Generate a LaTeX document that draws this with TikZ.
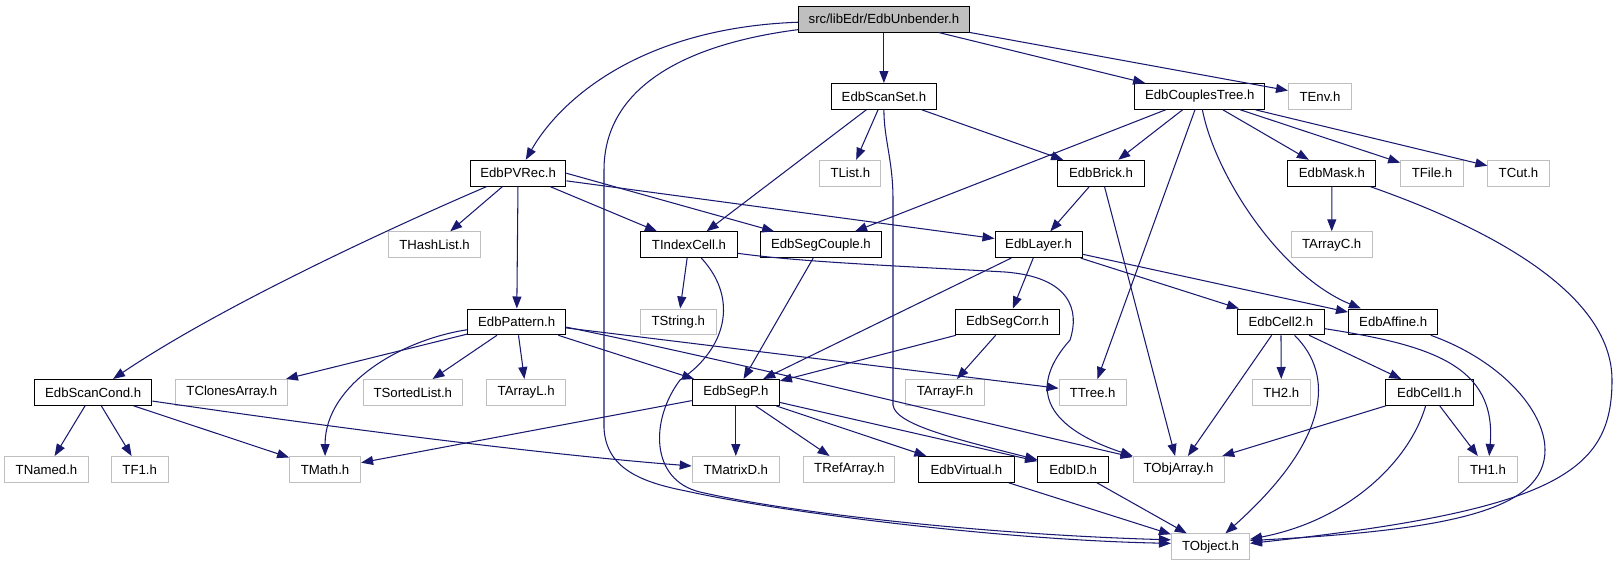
\documentclass[tikz,border=0pt]{standalone}
\usepackage{fontspec}
\setmainfont{Liberation Sans}
\usetikzlibrary{arrows.meta}
\definecolor{edgeblue}{HTML}{191970}
\definecolor{extgray}{HTML}{BFBFBF}
\tikzset{
  nbox/.style={draw=black, line width=1pt, fill=white, inner sep=0pt, minimum height=25.8, font=\fontsize{13.2}{15}\selectfont, text=black},
  ibox/.style={nbox},
  xbox/.style={nbox, draw=extgray},
  rbox/.style={nbox, fill=extgray},
  e/.style={draw=edgeblue, line width=1.05pt, -{Triangle[length=12pt,width=9pt]}}
}
\begin{document}
\begin{tikzpicture}[x=1pt,y=-1pt]
\useasboundingbox (0,0) rectangle (1617,560);
% row 1
\node[rbox, minimum width=171.2] (root) at (883.9,19.1) {src/libEdr/EdbUnbender.h};
% row 2
\node[ibox, minimum width=105.7] (scanset) at (883.9,96.4) {EdbScanSet.h};
\node[ibox, minimum width=129.8] (couples) at (1199.8,96.4) {EdbCouplesTree.h};
\node[xbox, minimum width=63] (tenv) at (1320,96.4) {TEnv.h};
% row 3
\node[ibox, minimum width=95.4] (pvrec) at (518.1,173.2) {EdbPVRec.h};
\node[xbox, minimum width=61.3] (tlist) at (850.3,173.2) {TList.h};
\node[ibox, minimum width=86.9] (brick) at (1101,173.2) {EdbBrick.h};
\node[ibox, minimum width=88.1] (mask) at (1331.9,173.2) {EdbMask.h};
\node[xbox, minimum width=62.7] (tfile) at (1432,173.2) {TFile.h};
\node[xbox, minimum width=61.3] (tcut) at (1518.5,173.2) {TCut.h};
% row 4
\node[xbox, minimum width=92.3] (thashlist) at (434.6,244.7) {THashList.h};
\node[ibox, minimum width=96.7] (tindexcell) at (689,244.7) {TIndexCell.h};
\node[ibox, minimum width=120.2] (segcouple) at (820.9,244.7) {EdbSegCouple.h};
\node[ibox, minimum width=87.2] (layer) at (1038.6,244.7) {EdbLayer.h};
\node[xbox, minimum width=81] (tarrayc) at (1331.7,244.7) {TArrayC.h};
% row 5
\node[ibox, minimum width=98.1] (pattern) at (516.7,321.9) {EdbPattern.h};
\node[xbox, minimum width=75.4] (tstring) at (678.3,321.9) {TString.h};
\node[ibox, minimum width=104.4] (segcorr) at (1007.5,321.9) {EdbSegCorr.h};
\node[ibox, minimum width=86.8] (cell2) at (1280.9,321.9) {EdbCell2.h};
\node[ibox, minimum width=89.5] (affine) at (1393.2,321.9) {EdbAffine.h};
% row 6
\node[ibox, minimum width=117.5] (scancond) at (93.2,392.4) {EdbScanCond.h};
\node[xbox, minimum width=112.3] (tclones) at (231.8,392.4) {TClonesArray.h};
\node[xbox, minimum width=99.5] (tsorted) at (412.8,392.4) {TSortedList.h};
\node[xbox, minimum width=79.2] (tarrayl) at (526.2,392.4) {TArrayL.h};
\node[ibox, minimum width=87.2] (segp) at (735.8,392.4) {EdbSegP.h};
\node[xbox, minimum width=78.6] (tarrayf) at (945,392.4) {TArrayF.h};
\node[xbox, minimum width=67.2] (ttree) at (1092.6,392.4) {TTree.h};
\node[xbox, minimum width=58.5] (th2) at (1281.3,392.4) {TH2.h};
\node[ibox, minimum width=87.1] (cell1) at (1429.5,392.4) {EdbCell1.h};
% row 7
\node[xbox, minimum width=83.4] (tnamed) at (46.5,469.4) {TNamed.h};
\node[xbox, minimum width=56.9] (tf1) at (139.7,469.4) {TF1.h};
\node[xbox, minimum width=71] (tmath) at (325.1,469.4) {TMath.h};
\node[xbox, minimum width=87.2] (tmatrixd) at (735.8,469.4) {TMatrixD.h};
\node[xbox, minimum width=90.9] (trefarray) at (849.3,469.4) {TRefArray.h};
\node[ibox, minimum width=95.4] (edbvirtual) at (966.5,469.4) {EdbVirtual.h};
\node[ibox, minimum width=71] (edbid) at (1073.2,469.4) {EdbID.h};
\node[xbox, minimum width=90.9] (tobjarray) at (1178.6,469.4) {TObjArray.h};
\node[xbox, minimum width=58.9] (th1) at (1488,469.4) {TH1.h};
% row 8
\node[xbox, minimum width=78.1] (tobject) at (1210.5,546.8) {TObject.h};

% edges from root
\draw[e] (root) .. controls (640,28) and (560,100) .. (pvrec);
\draw[e] (root.187.5) .. controls (680,45) and (604,90) .. (604,170) -- (604,428)
  .. controls (606,468) and (640,482) .. (686,491) .. controls (780,512) and (1000,540) .. (tobject.175);
\draw[e] (root) -- (scanset);
\draw[e] (root) -- (couples);
\draw[e] (root.south east) -- (tenv);
% EdbScanSet
\draw[e] (scanset) -- (tindexcell);
\draw[e] (scanset) -- (tlist);
\draw[e] (scanset.south) .. controls (884,140) and (893,160) .. (893,200) -- (893,405)
  .. controls (895,425) and (960,440) .. (edbid.165);
\draw[e] (scanset) -- (brick);
% EdbCouplesTree
\draw[e] (couples) -- (segcouple);
\draw[e] (couples) -- (brick);
\draw[e] (couples) -- (ttree);
\draw[e] (couples) .. controls (1215,175) and (1280,275) .. (affine);
\draw[e] (couples) -- (mask);
\draw[e] (couples) -- (tfile);
\draw[e] (couples) -- (tcut);
% EdbPVRec
\draw[e] (pvrec) .. controls (420,215) and (230,300) .. (scancond);
\draw[e] (pvrec) -- (thashlist);
\draw[e] (pvrec) -- (pattern);
\draw[e] (pvrec) -- (tindexcell);
\draw[e] (pvrec.east) -- (segcouple.164.5);
\draw[e] (pvrec.-9) -- (layer.172);
% EdbBrick
\draw[e] (brick) -- (layer);
\draw[e] (brick) -- (tobjarray);
% EdbMask
\draw[e] (mask) -- (tarrayc);
\draw[e] (mask) .. controls (1480,225) and (1612,290) .. (1612,380)
  .. controls (1612,470) and (1560,510) .. (tobject.5);
% EdbAffine
\draw[e] (affine) .. controls (1500,360) and (1545,410) .. (1545,450)
  .. controls (1545,510) and (1450,530) .. (tobject.9);
% TIndexCell
\draw[e] (tindexcell) -- (tstring);
\draw[e] (tindexcell) .. controls (740,300) and (725,350) .. (680,380)
  .. controls (650,420) and (650,480) .. (700,492) .. controls (800,515) and (1000,535) .. (tobject.170);
\draw[e] (tindexcell.-10) .. controls (800,262) and (900,266) .. (1005,272)
  .. controls (1070,277) and (1080,310) .. (1070,340)
  .. controls (1030,385) and (1040,425) .. (tobjarray.north west);
% EdbSegCouple
\draw[e] (segcouple) -- (segp);
% EdbLayer
\draw[e] (layer) -- (segp);
\draw[e] (layer) -- (segcorr);
\draw[e] (layer) -- (cell2);
\draw[e] (layer) -- (affine);
% EdbPattern
\draw[e] (pattern) -- (tclones);
\draw[e] (pattern.189) .. controls (400,340) and (325,385) .. (tmath);
\draw[e] (pattern) -- (tsorted);
\draw[e] (pattern) -- (tarrayl);
\draw[e] (pattern) -- (segp);
\draw[e] (pattern.-6) .. controls (750,365) and (950,415) .. (tobjarray.165);
\draw[e] (pattern) -- (ttree);
% EdbSegCorr
\draw[e] (segcorr) -- (segp);
\draw[e] (segcorr) -- (tarrayf);
% EdbCell2
\draw[e] (cell2) -- (tobjarray);
\draw[e] (cell2) -- (th2);
\draw[e] (cell2) .. controls (1335,375) and (1330,440) .. (tobject);
\draw[e] (cell2) -- (cell1);
\draw[e] (cell2) .. controls (1430,345) and (1497,365) .. (th1);
% EdbScanCond
\draw[e] (scancond) -- (tnamed);
\draw[e] (scancond) -- (tf1);
\draw[e] (scancond) -- (tmath);
\draw[e] (scancond) .. controls (350,430) and (550,455) .. (tmatrixd);
% EdbSegP
\draw[e] (segp) -- (tmath);
\draw[e] (segp) -- (tmatrixd);
\draw[e] (segp) -- (trefarray);
\draw[e] (segp) -- (edbvirtual);
\draw[e] (segp) -- (edbid);
% EdbCell1
\draw[e] (cell1) -- (tobjarray);
\draw[e] (cell1) .. controls (1410,460) and (1350,520) .. (tobject);
\draw[e] (cell1) -- (th1);
% EdbVirtual, EdbID
\draw[e] (edbvirtual) -- (tobject);
\draw[e] (edbid) -- (tobject);
\end{tikzpicture}
\end{document}
